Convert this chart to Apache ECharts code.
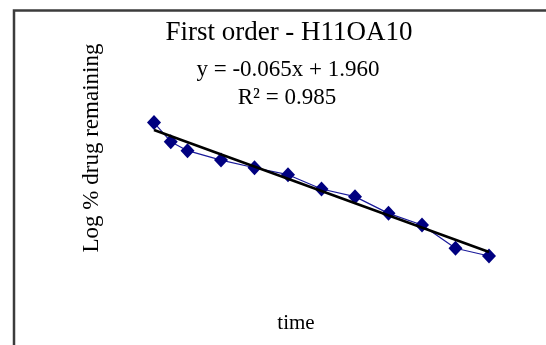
<!DOCTYPE html>
<html>
<head>
<meta charset="utf-8">
<script src="https://cdn.jsdelivr.net/npm/echarts@6/dist/echarts.min.js"></script>
<style>
  html, body { margin: 0; padding: 0; background: #fff; }
  #chart { width: 546px; height: 345px; }
</style>
</head>
<body>
<div id="chart"></div>
<script>
// Sampling times and log10 of % drug remaining
const time = [0, 0.5, 1, 2, 3, 4, 5, 6, 7, 8, 9, 10];
const logRemaining = [2.000, 1.898, 1.850, 1.800, 1.759, 1.722, 1.646, 1.605, 1.516, 1.454, 1.330, 1.289];

// Linear fit reported on the chart
const slope = -0.065;
const intercept = 1.960;
const rSquared = 0.985;
const fitRange = [0, 10];

const chartTitle = 'First order - H11OA10';
const xName = 'time';
const yName = 'Log % drug remaining';

const observed = time.map((t, i) => [t, logRemaining[i]]);
const fitted = fitRange.map(t => [t, intercept + slope * t]);
const eqText = 'y = ' + slope.toFixed(3) + 'x + ' + intercept.toFixed(3);
const r2Text = 'R\u00B2 = ' + rSquared.toFixed(3);

const serif = '"Liberation Serif", "Times New Roman", serif';

const chart = echarts.init(document.getElementById('chart'), null, { renderer: 'canvas' });
chart.setOption({
  animation: false,
  backgroundColor: '#fff',
  grid: { left: 120.5, right: 23.5, top: 85, bottom: 34.8 },
  xAxis: {
    type: 'value', min: -1, max: 11,
    axisLine: { show: false }, axisTick: { show: false },
    axisLabel: { show: false }, splitLine: { show: false }
  },
  yAxis: {
    type: 'value', min: 1.0, max: 2.2,
    axisLine: { show: false }, axisTick: { show: false },
    axisLabel: { show: false }, splitLine: { show: false }
  },
  graphic: [
    {
      type: 'rect', silent: true, z: 100,
      shape: { x: 14, y: 10.5, width: 700, height: 500 },
      style: { fill: 'none', stroke: '#3c3c3c', lineWidth: 2.5 }
    },
    {
      type: 'text', x: 289, y: 32.5, z: 100,
      style: { text: chartTitle, fontFamily: serif, fontSize: 27, fill: '#000',
               align: 'center', verticalAlign: 'middle' }
    },
    {
      type: 'text', x: 288, y: 70, z: 100,
      style: { text: eqText, fontFamily: serif, fontSize: 23, fill: '#000',
               align: 'center', verticalAlign: 'middle' }
    },
    {
      type: 'text', x: 287, y: 98, z: 100,
      style: { text: r2Text, fontFamily: serif, fontSize: 23, fill: '#000',
               align: 'center', verticalAlign: 'middle' }
    },
    {
      type: 'text', x: 92, y: 148, rotation: Math.PI / 2, z: 100,
      style: { text: yName, fontFamily: serif, fontSize: 23, fill: '#000',
               align: 'center', verticalAlign: 'middle' }
    },
    {
      type: 'text', x: 296, y: 323, z: 100,
      style: { text: xName, fontFamily: serif, fontSize: 21, fill: '#000',
               align: 'center', verticalAlign: 'middle' }
    }
  ],
  series: [
    {
      name: 'Observed',
      type: 'line',
      data: observed,
      symbol: 'diamond',
      symbolSize: [14, 15],
      showAllSymbol: true,
      lineStyle: { color: '#1a1a9a', width: 1.2 },
      itemStyle: { color: '#000080', borderWidth: 0 },
      z: 2
    },
    {
      name: 'Linear fit',
      type: 'line',
      data: fitted,
      symbol: 'none',
      lineStyle: { color: '#000', width: 2.6 },
      z: 3
    }
  ]
});
</script>
</body>
</html>
